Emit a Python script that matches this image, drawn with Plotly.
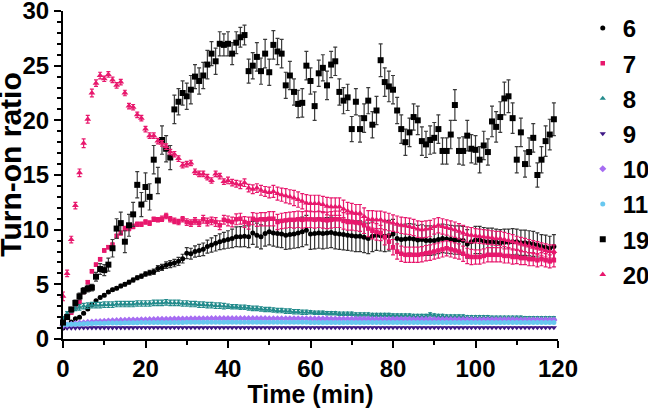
import plotly.graph_objects as go

# x: sampling time (min), one reading per minute
time_min = list(range(120))

s6 = [1.00, 1.25, 1.55, 1.85, 2.00, 2.35, 2.75, 3.15, 3.50, 3.80,
      4.00, 4.30, 4.50, 4.65, 4.85, 5.00, 5.20, 5.40, 5.60, 5.75,
      5.95, 6.05, 6.15, 6.45, 6.55, 6.75, 6.85, 6.95, 7.10, 7.35,
      7.85, 7.80, 8.00, 8.10, 8.20, 8.45, 8.60, 8.75, 8.90, 9.00,
      9.10, 9.20, 9.35, 9.35, 9.40, 9.35, 9.70, 9.50, 9.35, 9.65,
      9.80, 9.70, 9.65, 9.60, 9.50, 9.55, 9.60, 9.70, 9.80, 9.95,
      9.60, 9.65, 9.70, 9.65, 9.70, 9.75, 9.65, 9.60, 9.55, 9.50,
      9.45, 9.40, 9.40, 9.30, 9.20, 9.40, 9.50, 9.45, 9.40, 9.45,
      9.60, 9.20, 9.10, 9.15, 9.20, 9.15, 9.05, 9.10, 9.00, 9.00,
      9.00, 9.10, 9.20, 9.15, 9.10, 9.05, 9.05, 9.00, 8.70, 8.90,
      9.05, 9.05, 8.95, 8.90, 8.90, 8.85, 8.80, 8.85, 8.85, 8.90,
      8.90, 8.80, 8.80, 8.75, 8.70, 8.60, 8.45, 8.40, 8.30, 8.45]
e6 = [0.05, 0.05, 0.06, 0.07, 0.08, 0.08, 0.09, 0.10, 0.10, 0.11,
      0.12, 0.12, 0.13, 0.14, 0.15, 0.15, 0.16, 0.17, 0.18, 0.19,
      0.20, 0.22, 0.24, 0.26, 0.28, 0.30, 0.32, 0.34, 0.36, 0.40,
      0.50, 0.50, 0.52, 0.55, 0.58, 0.60, 0.65, 0.70, 0.72, 0.75,
      0.80, 0.85, 0.90, 0.92, 0.95, 1.00, 1.05, 1.10, 1.10, 1.15,
      1.20, 1.20, 1.25, 1.25, 1.30, 1.30, 1.30, 1.35, 1.35, 1.35,
      1.40, 1.40, 1.40, 1.40, 1.40, 1.40, 1.40, 1.40, 1.40, 1.40,
      1.40, 1.40, 1.40, 1.40, 1.40, 1.40, 1.40, 1.40, 1.40, 1.40,
      1.35, 1.35, 1.35, 1.35, 1.35, 1.35, 1.35, 1.35, 1.35, 1.35,
      1.30, 1.30, 1.30, 1.30, 1.30, 1.30, 1.30, 1.30, 1.30, 1.30,
      1.25, 1.25, 1.25, 1.25, 1.25, 1.20, 1.20, 1.20, 1.20, 1.20,
      1.15, 1.15, 1.15, 1.15, 1.15, 1.10, 1.10, 1.10, 1.10, 1.10]

s7 = [1.70, 2.00, 2.40, 2.90, 3.40, 4.30, 5.20, 6.20, 6.80, 7.30,
      8.10, 8.40, 8.60, 9.40, 9.70, 10.10, 10.10, 10.30, 10.50, 10.50,
      10.70, 10.60, 10.95, 10.90, 11.00, 11.25, 10.95, 10.80, 10.70, 10.95,
      10.70, 10.60, 10.80, 10.60, 10.95, 10.70, 10.80, 10.70, 10.40, 10.90,
      10.80, 10.70, 10.95, 11.00, 10.70, 10.60, 11.00, 10.90, 10.95, 10.95,
      11.00, 11.00, 10.70, 10.80, 10.85, 10.90, 10.90, 10.95, 10.90, 10.95,
      10.95, 10.90, 10.95, 10.90, 10.85, 10.90, 10.95, 10.95, 10.80, 10.70,
      10.70, 10.65, 10.60, 10.40, 10.10, 9.90, 9.80, 9.70, 9.30, 8.90,
      8.40, 8.00, 7.80, 7.70, 7.70, 7.70, 7.70, 7.75, 7.85, 7.90,
      8.00, 8.10, 8.20, 8.30, 8.20, 8.10, 8.00, 7.80, 7.60, 7.50,
      7.50, 7.50, 7.60, 7.70, 7.70, 7.70, 7.70, 7.60, 7.60, 7.50,
      7.50, 7.40, 7.40, 7.30, 7.30, 7.20, 7.30, 7.20, 7.10, 7.20]
e7 = [0.05, 0.05, 0.08, 0.10, 0.10, 0.12, 0.15, 0.15, 0.15, 0.15,
      0.15, 0.15, 0.20, 0.20, 0.20, 0.20, 0.20, 0.20, 0.20, 0.20,
      0.20, 0.20, 0.20, 0.20, 0.25, 0.25, 0.25, 0.25, 0.25, 0.25,
      0.30, 0.30, 0.30, 0.30, 0.35, 0.35, 0.35, 0.40, 0.40, 0.40,
      0.45, 0.45, 0.50, 0.50, 0.50, 0.55, 0.55, 0.60, 0.60, 0.60,
      0.65, 0.65, 0.70, 0.70, 0.70, 0.70, 0.75, 0.75, 0.75, 0.75,
      0.75, 0.75, 0.75, 0.75, 0.75, 0.75, 0.75, 0.75, 0.75, 0.75,
      0.75, 0.75, 0.75, 0.75, 0.75, 0.75, 0.75, 0.70, 0.70, 0.70,
      0.70, 0.70, 0.70, 0.70, 0.70, 0.70, 0.70, 0.70, 0.70, 0.70,
      0.70, 0.70, 0.70, 0.70, 0.70, 0.70, 0.70, 0.70, 0.70, 0.70,
      0.65, 0.65, 0.65, 0.65, 0.65, 0.65, 0.65, 0.65, 0.65, 0.65,
      0.60, 0.60, 0.60, 0.60, 0.60, 0.60, 0.60, 0.60, 0.60, 0.60]

s8 = [1.90, 2.30, 2.60, 2.80, 2.90, 3.00, 3.05, 3.10, 3.10, 3.10,
      3.15, 3.15, 3.15, 3.20, 3.20, 3.20, 3.20, 3.20, 3.25, 3.25,
      3.25, 3.25, 3.30, 3.30, 3.30, 3.35, 3.30, 3.30, 3.30, 3.25,
      3.25, 3.20, 3.20, 3.15, 3.15, 3.10, 3.10, 3.05, 3.05, 3.00,
      3.00, 2.95, 2.95, 2.90, 2.90, 2.85, 2.80, 2.80, 2.75, 2.70,
      2.70, 2.65, 2.60, 2.60, 2.55, 2.55, 2.50, 2.50, 2.45, 2.45,
      2.45, 2.40, 2.40, 2.40, 2.35, 2.35, 2.35, 2.30, 2.30, 2.30,
      2.30, 2.25, 2.25, 2.25, 2.25, 2.20, 2.20, 2.20, 2.20, 2.20,
      2.15, 2.15, 2.15, 2.15, 2.15, 2.10, 2.10, 2.10, 2.10, 2.25,
      2.15, 2.10, 2.10, 2.05, 2.05, 2.05, 2.05, 2.05, 2.00, 2.00,
      2.00, 2.00, 2.00, 2.00, 1.95, 1.95, 1.95, 1.95, 1.95, 1.95,
      1.95, 1.95, 1.90, 1.90, 1.90, 1.90, 1.90, 1.90, 1.90, 1.90]
e8 = [0.15, 0.20, 0.20, 0.20, 0.25, 0.25, 0.25, 0.25, 0.25, 0.25,
      0.25, 0.25, 0.25, 0.25, 0.25, 0.25, 0.25, 0.25, 0.25, 0.25,
      0.25, 0.25, 0.25, 0.25, 0.25, 0.25, 0.25, 0.25, 0.25, 0.25,
      0.25, 0.25, 0.25, 0.25, 0.25, 0.25, 0.25, 0.25, 0.25, 0.25,
      0.20, 0.20, 0.20, 0.20, 0.20, 0.20, 0.20, 0.20, 0.20, 0.20,
      0.20, 0.20, 0.20, 0.20, 0.20, 0.20, 0.20, 0.20, 0.20, 0.20,
      0.15, 0.15, 0.15, 0.15, 0.15, 0.15, 0.15, 0.15, 0.15, 0.15,
      0.15, 0.15, 0.15, 0.15, 0.15, 0.15, 0.15, 0.15, 0.15, 0.15,
      0.15, 0.15, 0.15, 0.15, 0.15, 0.15, 0.15, 0.15, 0.15, 0.15,
      0.15, 0.15, 0.15, 0.15, 0.15, 0.15, 0.15, 0.15, 0.15, 0.15,
      0.15, 0.15, 0.15, 0.15, 0.15, 0.15, 0.15, 0.15, 0.15, 0.15,
      0.15, 0.15, 0.15, 0.15, 0.15, 0.15, 0.15, 0.15, 0.15, 0.15]

s9 = [1.00, 1.00, 1.01, 1.01, 1.02, 1.02, 1.02, 1.03, 1.03, 1.03,
      1.03, 1.03, 1.04, 1.04, 1.04, 1.04, 1.04, 1.04, 1.05, 1.05,
      1.05, 1.05, 1.05, 1.05, 1.05, 1.05, 1.05, 1.05, 1.05, 1.05,
      1.05, 1.05, 1.05, 1.05, 1.05, 1.05, 1.05, 1.05, 1.05, 1.05,
      1.05, 1.05, 1.05, 1.05, 1.05, 1.05, 1.05, 1.05, 1.05, 1.05,
      1.05, 1.05, 1.05, 1.05, 1.05, 1.05, 1.05, 1.05, 1.05, 1.05,
      1.05, 1.05, 1.05, 1.05, 1.05, 1.05, 1.05, 1.05, 1.05, 1.05,
      1.05, 1.05, 1.05, 1.05, 1.05, 1.05, 1.05, 1.05, 1.05, 1.05,
      1.05, 1.05, 1.05, 1.05, 1.05, 1.05, 1.05, 1.05, 1.05, 1.05,
      1.05, 1.05, 1.05, 1.05, 1.05, 1.05, 1.05, 1.05, 1.05, 1.05,
      1.05, 1.05, 1.05, 1.05, 1.05, 1.05, 1.05, 1.05, 1.05, 1.05,
      1.05, 1.05, 1.05, 1.05, 1.05, 1.05, 1.05, 1.05, 1.05, 1.05]

s10 = [1.25, 1.30, 1.35, 1.40, 1.45, 1.48, 1.52, 1.55, 1.58, 1.60,
       1.62, 1.64, 1.66, 1.68, 1.70, 1.71, 1.72, 1.73, 1.74, 1.75,
       1.76, 1.77, 1.78, 1.79, 1.80, 1.80, 1.81, 1.82, 1.82, 1.83,
       1.83, 1.84, 1.84, 1.85, 1.85, 1.85, 1.86, 1.86, 1.86, 1.86,
       1.86, 1.86, 1.86, 1.86, 1.86, 1.86, 1.86, 1.86, 1.86, 1.86,
       1.85, 1.85, 1.85, 1.85, 1.85, 1.85, 1.85, 1.85, 1.85, 1.85,
       1.84, 1.84, 1.84, 1.84, 1.84, 1.83, 1.83, 1.83, 1.83, 1.83,
       1.82, 1.82, 1.82, 1.82, 1.82, 1.81, 1.81, 1.81, 1.81, 1.81,
       1.80, 1.80, 1.80, 1.80, 1.80, 1.79, 1.79, 1.79, 1.79, 1.79,
       1.78, 1.78, 1.78, 1.78, 1.78, 1.77, 1.77, 1.77, 1.77, 1.77,
       1.76, 1.76, 1.76, 1.76, 1.76, 1.75, 1.75, 1.75, 1.75, 1.75,
       1.74, 1.74, 1.74, 1.74, 1.74, 1.73, 1.73, 1.73, 1.73, 1.73]

s11 = [1.30, 1.32, 1.34, 1.36, 1.38, 1.40, 1.41, 1.42, 1.43, 1.44,
       1.45, 1.46, 1.46, 1.47, 1.47, 1.48, 1.48, 1.49, 1.49, 1.50,
       1.50, 1.50, 1.51, 1.51, 1.51, 1.52, 1.52, 1.52, 1.52, 1.52,
       1.53, 1.53, 1.53, 1.53, 1.53, 1.53, 1.53, 1.53, 1.53, 1.53,
       1.53, 1.53, 1.53, 1.53, 1.53, 1.53, 1.53, 1.53, 1.53, 1.53,
       1.53, 1.53, 1.53, 1.53, 1.53, 1.53, 1.53, 1.53, 1.53, 1.53,
       1.52, 1.52, 1.52, 1.52, 1.52, 1.52, 1.52, 1.52, 1.52, 1.52,
       1.52, 1.52, 1.52, 1.52, 1.52, 1.51, 1.51, 1.51, 1.51, 1.51,
       1.51, 1.51, 1.51, 1.51, 1.51, 1.51, 1.51, 1.51, 1.51, 1.51,
       1.50, 1.50, 1.50, 1.50, 1.50, 1.50, 1.50, 1.50, 1.50, 1.50,
       1.50, 1.50, 1.50, 1.50, 1.50, 1.50, 1.50, 1.50, 1.50, 1.50,
       1.50, 1.50, 1.50, 1.50, 1.50, 1.50, 1.50, 1.50, 1.50, 1.50]

s19 = [1.5, 2.0, 2.7, 3.3, 3.9, 4.4, 4.6, 4.7, 5.7, 6.4,
       6.3, 6.8, 8.3, 10.1, 10.6, 8.9, 10.4, 11.4, 14.1, 12.3,
       13.9, 13.0, 16.4, 14.5, 18.2, 17.4, 16.6, 21.0, 21.7, 22.5,
       22.2, 22.8, 24.0, 23.6, 24.1, 25.1, 26.1, 25.4, 27.0, 26.9,
       27.0, 26.1, 27.1, 27.6, 27.8, 24.5, 25.0, 25.8, 24.5, 26.1,
       24.4, 26.9, 26.3, 26.1, 23.2, 24.1, 22.6, 21.5, 21.6, 25.0,
       23.6, 21.3, 24.3, 24.8, 23.2, 25.1, 25.4, 22.6, 21.8, 22.1,
       19.2, 21.7, 19.2, 20.2, 21.8, 19.6, 20.9, 25.5, 23.5, 23.1,
       22.8, 20.9, 19.2, 18.0, 18.9, 20.3, 20.0, 18.1, 17.8, 18.2,
       18.4, 19.2, 17.2, 17.2, 18.7, 21.4, 17.2, 17.2, 18.6, 17.4,
       17.3, 16.4, 17.7, 17.1, 19.9, 19.4, 20.3, 22.0, 22.2, 20.2,
       16.4, 18.9, 16.0, 17.1, 18.4, 15.0, 16.4, 18.1, 18.7, 20.1]
e19 = [0.15, 0.20, 0.20, 0.25, 0.30, 0.30, 0.30, 0.30, 0.40, 0.50,
       0.50, 0.60, 0.80, 0.90, 1.00, 1.00, 1.00, 1.10, 1.20, 1.10,
       1.30, 1.20, 1.30, 1.20, 1.30, 1.20, 1.10, 1.30, 1.20, 1.10,
       1.20, 1.30, 1.10, 1.20, 1.20, 1.30, 1.10, 1.20, 1.10, 1.00,
       1.10, 1.00, 1.00, 0.90, 0.90, 1.10, 1.20, 1.30, 1.20, 1.30,
       1.20, 1.30, 1.20, 1.30, 1.20, 1.30, 1.20, 1.25, 1.30, 1.30,
       1.20, 1.30, 1.20, 1.20, 1.30, 1.20, 1.30, 1.20, 1.20, 1.20,
       1.15, 1.20, 1.20, 1.30, 1.20, 1.20, 1.30, 1.50, 1.30, 1.40,
       1.30, 1.20, 1.30, 1.20, 1.30, 1.20, 1.30, 1.30, 1.20, 1.30,
       1.40, 1.30, 1.20, 1.20, 1.30, 1.40, 1.20, 1.30, 1.40, 1.30,
       1.30, 1.20, 1.30, 1.20, 1.40, 1.40, 1.40, 1.50, 1.50, 1.40,
       1.20, 1.30, 1.20, 1.30, 1.30, 1.10, 1.20, 1.40, 1.40, 1.50]

s20 = [3.90, 6.00, 9.10, 12.20, 15.20, 17.90, 20.10, 22.50, 23.40, 24.10,
       23.80, 24.20, 23.70, 23.20, 23.50, 22.50, 21.30, 21.20, 20.50, 20.20,
       19.20, 18.60, 18.60, 18.10, 17.90, 17.60, 17.10, 16.90, 16.50, 15.90,
       16.00, 16.10, 15.30, 15.10, 15.10, 14.80, 14.50, 15.10, 14.90, 14.40,
       14.50, 14.30, 14.20, 14.10, 14.30, 13.80, 13.70, 13.80, 13.60, 13.50,
       13.40, 13.50, 13.30, 13.20, 13.10, 13.00, 12.90, 12.75, 12.60, 12.45,
       12.40, 12.40, 12.40, 12.30, 12.15, 12.10, 12.10, 12.10, 11.90, 11.70,
       11.60, 11.50, 11.50, 11.20, 10.95, 10.95, 10.90, 10.90, 10.80, 10.70,
       10.60, 10.50, 10.40, 10.35, 10.30, 10.20, 10.05, 10.00, 10.05, 10.10,
       10.30, 10.40, 10.30, 10.20, 10.10, 10.00, 9.85, 9.70, 9.55, 9.50,
       9.45, 9.40, 9.35, 9.30, 9.25, 9.20, 9.20, 9.10, 9.00, 8.90,
       8.80, 8.70, 8.60, 8.50, 8.40, 8.30, 8.20, 8.10, 8.00, 8.00]
e20 = [0.40, 0.30, 0.30, 0.30, 0.35, 0.40, 0.35, 0.35, 0.30, 0.30,
       0.25, 0.25, 0.25, 0.25, 0.25, 0.25, 0.25, 0.25, 0.25, 0.25,
       0.25, 0.25, 0.25, 0.25, 0.25, 0.25, 0.25, 0.25, 0.25, 0.25,
       0.25, 0.25, 0.25, 0.25, 0.25, 0.25, 0.25, 0.25, 0.25, 0.25,
       0.30, 0.30, 0.30, 0.35, 0.35, 0.35, 0.40, 0.40, 0.45, 0.45,
       0.50, 0.55, 0.60, 0.60, 0.65, 0.65, 0.70, 0.70, 0.70, 0.75,
       0.75, 0.75, 0.75, 0.75, 0.80, 0.80, 0.80, 0.80, 0.80, 0.80,
       0.80, 0.80, 0.80, 0.80, 0.80, 0.80, 0.80, 0.80, 0.80, 0.80,
       0.75, 0.75, 0.75, 0.75, 0.75, 0.75, 0.75, 0.75, 0.75, 0.75,
       0.70, 0.70, 0.70, 0.70, 0.70, 0.70, 0.70, 0.70, 0.70, 0.70,
       0.65, 0.65, 0.65, 0.65, 0.65, 0.65, 0.65, 0.65, 0.65, 0.65,
       0.60, 0.60, 0.60, 0.60, 0.60, 0.60, 0.60, 0.60, 0.60, 0.60]

x_ticks = [0, 20, 40, 60, 80, 100, 120]
y_ticks = [0, 5, 10, 15, 20, 25, 30]

for arr in (s6, e6, s7, e7, s8, e8, s9, s10, s11, s19, e19, s20, e20):
    assert len(arr) == len(time_min), len(arr)

PINK = "#E8186D"
TEAL = "#238B8C"
PURPLE = "#3E1786"
LILAC = "#A66CF2"
SKY = "#68C8F0"
BLACK = "#000000"

series = [
    ("6", s6, e6, "circle", 5, BLACK, "#333333"),
    ("7", s7, e7, "square", 4.5, PINK, PINK),
    ("8", s8, e8, "triangle-up", 5.5, TEAL, TEAL),
    ("9", s9, None, "triangle-down", 5.5, PURPLE, PURPLE),
    ("10", s10, None, "diamond", 5.5, LILAC, LILAC),
    ("11", s11, None, "circle", 5, SKY, SKY),
    ("19", s19, e19, "square", 6, BLACK, "#3a3a3a"),
    ("20", s20, e20, "triangle-up", 6, PINK, PINK),
]

fig = go.Figure()
for name, ys, errs, sym, size, color, ecolor in series:
    kw = {}
    if errs is not None:
        kw["error_y"] = dict(type="data", array=errs, visible=True,
                             color=ecolor, thickness=1.2, width=2)
    fig.add_trace(go.Scatter(
        x=time_min, y=ys, name="<b>%s</b>" % name, mode="markers", cliponaxis=False,
        legendgroup=name,
        marker=dict(symbol=sym, size=size, color=color, line=dict(width=0)),
        **kw))

FONT = "Liberation Sans, Arial, sans-serif"
axis_common = dict(
    showline=True, linecolor="black", linewidth=2,
    ticks="outside", ticklen=7, tickwidth=2, tickcolor="black",
    showgrid=False, zeroline=False, ticklabeloverflow="allow",
    tickfont=dict(family=FONT, size=24, color="black"),
)
fig.update_xaxes(range=[0, 120], tickvals=x_ticks,
                 ticktext=["<b>%d</b>" % v for v in x_ticks],
                 minor=dict(dtick=10, ticklen=4, tickwidth=2, tickcolor="black", ticks="outside"),
                 title=dict(text="<b>Time (min)</b>", standoff=6,
                            font=dict(family=FONT, size=25, color="black")),
                 **axis_common)
fig.update_yaxes(range=[0, 30], tickvals=y_ticks,
                 ticktext=["<b>%d</b>" % v for v in y_ticks],
                 minor=dict(dtick=1, ticklen=4, tickwidth=2, tickcolor="black", ticks="outside"),
                 **axis_common)

fig.add_annotation(text="<b>Turn-on ratio</b>", textangle=-90,
                   xref="paper", yref="paper", x=-0.106, y=0.53,
                   xanchor="center", yanchor="middle", showarrow=False,
                   font=dict(family=FONT, size=30, color="black"))

fig.update_layout(
    width=648, height=408,
    margin=dict(l=63, r=90, t=11, b=69, autoexpand=False),
    plot_bgcolor="white", paper_bgcolor="white",
    legend=dict(x=1.05, y=0.572, xanchor="left", yanchor="middle",
                tracegroupgap=1, bgcolor="rgba(0,0,0,0)",
                font=dict(family=FONT, size=24, color="black")),
)

fig.write_html("out.html", config={"displayModeBar": False},
               post_script="document.body.style.margin='0px';")
